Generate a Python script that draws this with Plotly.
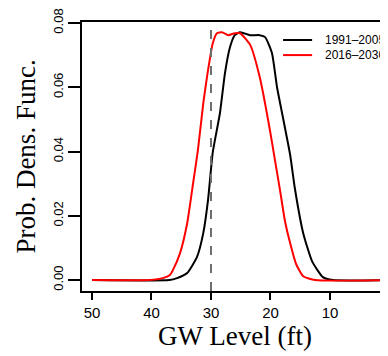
import plotly.graph_objects as go

# Period 1991-2005 (black)
black_x = [50, 37.0, 35.7, 34.0, 32.35, 31.3, 30.5, 29.7, 28.5, 27.65, 26.8, 26.0, 25.1,
           23.45, 21.8, 20.9, 19.75, 18.9, 17.9, 16.7, 15.9, 14.5, 13.0, 11.2, 9.5, 0]
black_y = [0, 0, 0.0006, 0.0022, 0.0072, 0.0146, 0.0249, 0.0398, 0.0519, 0.0644, 0.0725, 0.0762, 0.0771,
           0.0762, 0.0762, 0.0756, 0.0706, 0.0600, 0.0505, 0.0390, 0.0285, 0.0146, 0.0058, 0.0009, 0, 0]

# Period 2016-2030 (red)
red_x = [50, 40.3, 38.1, 36.9, 36.4, 35.2, 34.0, 33.0, 32.2, 31.3, 30.5, 29.7, 29.0, 28.15,
         27.1, 26.0, 25.1, 23.4, 21.8, 20.1, 19.25, 18.4, 17.6, 16.7, 15.7, 14.5, 12.5, 0]
red_y = [0, 0, 0.0006, 0.0016, 0.0031, 0.0084, 0.0177, 0.0302, 0.0404, 0.0550, 0.0653, 0.0737, 0.0768, 0.0771,
         0.0762, 0.0768, 0.0768, 0.0731, 0.0631, 0.0467, 0.0373, 0.0280, 0.0187, 0.0115, 0.0050, 0.0012, 0, 0]

series_names = ["1991\u20132005", "2016\u20132030"]
threshold = 30
x_ticks = [50, 40, 30, 20, 10, 0]
y_ticks = [0.00, 0.02, 0.04, 0.06, 0.08]

fig = go.Figure()
fig.add_trace(go.Scatter(x=black_x, y=black_y, mode="lines", name=series_names[0],
                         line=dict(color="black", width=2, shape="spline", smoothing=0.5),
                         showlegend=False))
fig.add_trace(go.Scatter(x=red_x, y=red_y, mode="lines", name=series_names[1],
                         line=dict(color="#ff0000", width=2, shape="spline", smoothing=0.5),
                         showlegend=False))

fig.add_shape(type="line", xref="x", yref="paper", x0=threshold, x1=threshold, y0=0, y1=1,
              line=dict(color="#6e6e6e", width=2, dash="dash"))

# legend drawn manually
leg_cols = ["black", "#ff0000"]
leg_y = [0.933, 0.877]
for name, col, yy in zip(series_names, leg_cols, leg_y):
    fig.add_shape(type="line", xref="paper", yref="paper", x0=0.657, x1=0.752, y0=yy, y1=yy,
                  line=dict(color=col, width=2))
    fig.add_annotation(xref="paper", yref="paper", x=0.788, y=yy, text=name, showarrow=False,
                       xanchor="left", yanchor="middle",
                       font=dict(family="Liberation Sans", size=12, color="black"))

# partially visible "0" tick label at the clipped right edge
fig.add_annotation(xref="paper", yref="paper", x=1.003, y=0, yshift=-21, text="0", showarrow=False,
                   xanchor="center", yanchor="middle",
                   font=dict(family="Liberation Sans", size=15, color="black"))

fig.update_layout(
    width=380, height=348,
    margin=dict(l=74, r=0, t=14, b=65),
    paper_bgcolor="white", plot_bgcolor="white",
    xaxis=dict(range=[51.68, 0.25], tickvals=x_ticks, ticks="outside", ticklen=7, tickwidth=1.5,
               tickcolor="black", showline=True, linecolor="black", linewidth=1.5, mirror=True,
               showgrid=False, zeroline=False, automargin=False,
               tickfont=dict(family="Liberation Sans", size=15, color="black"),
               title=dict(text="GW Level (ft)", standoff=5,
                          font=dict(family="Liberation Serif", size=27, color="black"))),
    yaxis=dict(range=[-0.0034, 0.0803], tickvals=y_ticks, tickformat=".2f", ticks="outside",
               ticklen=12, tickwidth=1.5, tickcolor="black", showline=True, linecolor="black",
               linewidth=1.5, mirror=False, showgrid=False, zeroline=False, tickangle=-90,
               automargin=False,
               tickfont=dict(family="Liberation Sans", size=13, color="black"),
               title=dict(text="Prob. Dens. Func.", standoff=8,
                          font=dict(family="Liberation Serif", size=27, color="black"))),
)

fig.write_html("out.html")
